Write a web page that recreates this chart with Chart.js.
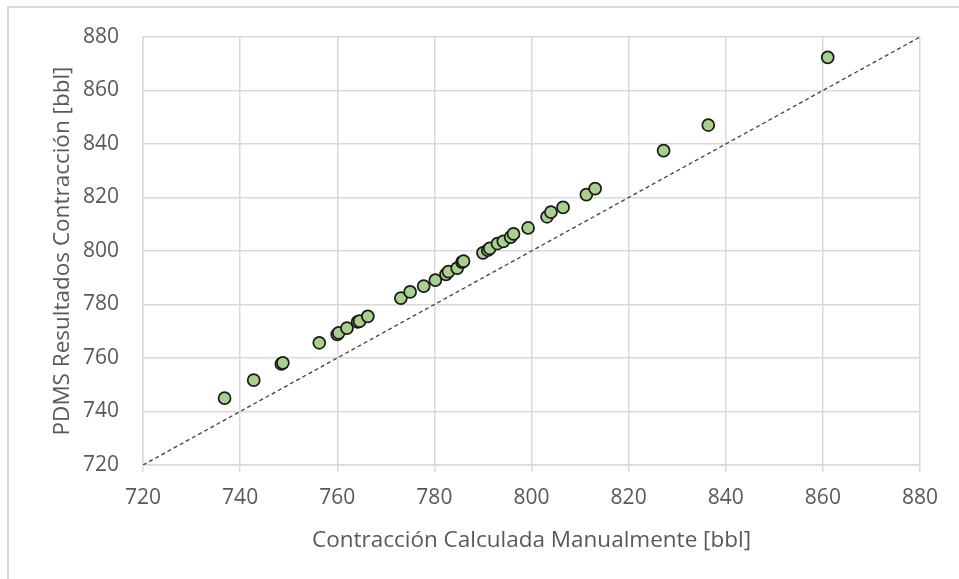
<!DOCTYPE html>
<html>
<head>
<meta charset="utf-8">
<script src="https://cdn.jsdelivr.net/npm/chart.js@4.4.0/dist/chart.umd.min.js"></script>
<style>
  html, body { margin: 0; padding: 0; background: #fff; overflow: hidden; }
  #frame { position: absolute; left: 7px; top: 6px; width: 2000px; height: 2000px; border: 2px solid #d9d9d9; }
  #chart { position: absolute; left: 0; top: 0; }
</style>
</head>
<body>
<div id="frame"></div>
<canvas id="chart" width="959" height="579"></canvas>
<script>
// Contraccion calculada manualmente (x) vs resultado PDMS (y), en bbl
const manualX = [736.8, 742.8, 748.5, 748.8, 756.3, 760.0, 760.3, 762.0, 764.2, 764.6,
    766.3, 773.1, 775.0, 777.8, 780.2, 782.4, 782.9, 784.7, 785.7, 786.0,
    790.0, 791.0, 791.4, 793.0, 794.2, 795.7, 796.3, 799.3, 803.2, 804.0,
    806.5, 811.3, 813.1, 827.2, 836.4, 861.0];
const pdmsY = [745.0, 751.7, 757.8, 758.2, 765.7, 768.8, 769.4, 771.2, 773.5, 773.8,
    775.6, 782.4, 784.7, 786.9, 789.1, 791.3, 792.3, 793.6, 795.8, 796.2,
    799.3, 800.3, 801.0, 802.8, 803.6, 805.2, 806.4, 808.6, 812.8, 814.5,
    816.3, 821.1, 823.3, 837.5, 847.1, 872.4];
// linea 1:1
const refLine = [720, 880];

const axisMin = 720;
const axisMax = 880;
const axisStep = 20;

const gridColor = '#d9d9d9';
const textColor = '#595959';
const fontFamily = '"Open Sans", "Liberation Sans", sans-serif';

new Chart(document.getElementById('chart'), {
    type: 'scatter',
    data: {
        datasets: [
            {
                label: 'PDMS',
                data: manualX.map((x, i) => ({ x: x, y: pdmsY[i] })),
                backgroundColor: '#a9d18e',
                borderColor: '#1a1a1a',
                borderWidth: 1.75,
                pointRadius: 6,
                pointHoverRadius: 6,
                order: 1
            },
            {
                type: 'line',
                label: '1:1',
                data: refLine.map(v => ({ x: v, y: v })),
                borderColor: '#404040',
                borderWidth: 1.3,
                borderDash: [4, 3],
                pointRadius: 0,
                fill: false,
                order: 2
            }
        ]
    },
    options: {
        responsive: false,
        animation: false,
        layout: {
            padding: { left: 0, top: 37, right: 39, bottom: 0 }
        },
        plugins: {
            legend: { display: false },
            tooltip: { enabled: false }
        },
        scales: {
            x: {
                min: axisMin,
                max: axisMax,
                afterFit: s => { s.height = 114; },
                grid: {
                    color: gridColor,
                    lineWidth: 1.5,
                    drawTicks: true,
                    tickLength: 7
                },
                border: { color: gridColor, width: 1.5 },
                ticks: {
                    stepSize: axisStep,
                    padding: 13,
                    color: textColor,
                    font: { family: fontFamily, size: 21 }
                },
                title: {
                    display: true,
                    text: 'Contracción Calculada Manualmente [bbl]',
                    color: textColor,
                    font: { family: fontFamily, size: 22.5 },
                    padding: { top: 0, bottom: 25 }
                }
            },
            y: {
                min: axisMin,
                max: axisMax,
                afterFit: s => { s.width = 143; },
                grid: {
                    color: gridColor,
                    lineWidth: 1.5,
                    drawTicks: false
                },
                border: { color: gridColor, width: 1.5 },
                ticks: {
                    stepSize: axisStep,
                    padding: 24,
                    color: textColor,
                    font: { family: fontFamily, size: 21 }
                },
                title: {
                    display: true,
                    text: 'PDMS Resultados Contracción [bbl]',
                    color: textColor,
                    font: { family: fontFamily, size: 22.5 },
                    padding: { top: 49, bottom: 0 }
                }
            }
        }
    }
});
</script>
</body>
</html>
